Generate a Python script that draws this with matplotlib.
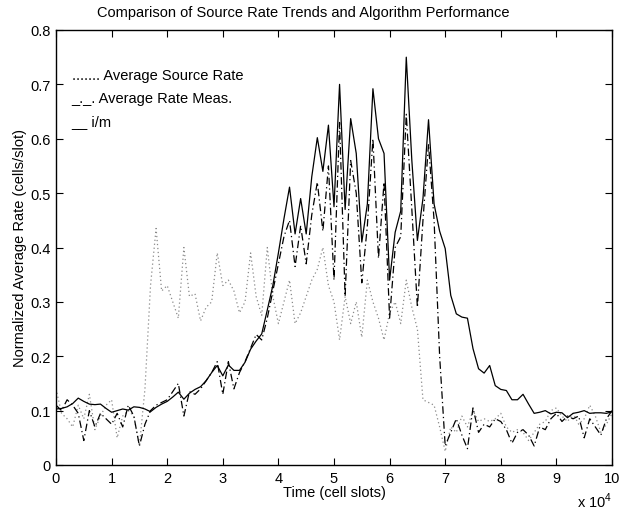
import matplotlib
matplotlib.use("Agg")
import matplotlib.pyplot as plt
import numpy as np

plt.rcParams['font.family'] = ['Liberation Sans', 'DejaVu Sans']

# sample times, in units of 10^4 cell slots (one sample every 1000 slots)
time_1e4 = np.arange(101) / 10.0

im_rate = [
    0.103, 0.104, 0.107, 0.113, 0.123, 0.117, 0.112, 0.111, 0.112, 0.104,
    0.097, 0.100, 0.103, 0.101, 0.107, 0.106, 0.103, 0.098, 0.106, 0.112,
    0.117, 0.125, 0.134, 0.121, 0.132, 0.139, 0.144, 0.155, 0.170, 0.183,
    0.164, 0.184, 0.174, 0.174, 0.189, 0.213, 0.228, 0.241, 0.285, 0.330,
    0.390, 0.453, 0.511, 0.425, 0.490, 0.425, 0.530, 0.602, 0.540, 0.625,
    0.475, 0.700, 0.470, 0.637, 0.573, 0.410, 0.480, 0.692, 0.600, 0.573,
    0.340, 0.428, 0.467, 0.750, 0.560, 0.413, 0.490, 0.635, 0.480, 0.430,
    0.398, 0.312, 0.278, 0.272, 0.270, 0.214, 0.177, 0.169, 0.183, 0.146,
    0.139, 0.137, 0.120, 0.120, 0.130, 0.112, 0.095, 0.097, 0.100, 0.094,
    0.097, 0.096, 0.087, 0.095, 0.097, 0.100, 0.095, 0.096, 0.096, 0.095,
    0.098,
]

meas_rate = [
    0.110, 0.100, 0.120, 0.110, 0.095, 0.045, 0.100, 0.070, 0.095, 0.085,
    0.075, 0.095, 0.070, 0.110, 0.090, 0.035, 0.075, 0.100, 0.110, 0.115,
    0.120, 0.135, 0.150, 0.090, 0.135, 0.130, 0.140, 0.155, 0.170, 0.190,
    0.130, 0.190, 0.140, 0.170, 0.190, 0.215, 0.240, 0.230, 0.270, 0.320,
    0.370, 0.420, 0.450, 0.365, 0.440, 0.370, 0.460, 0.520, 0.430, 0.550,
    0.340, 0.630, 0.310, 0.560, 0.500, 0.335, 0.440, 0.600, 0.380, 0.520,
    0.270, 0.400, 0.420, 0.645, 0.470, 0.290, 0.450, 0.590, 0.450, 0.200,
    0.035, 0.060, 0.085, 0.055, 0.030, 0.105, 0.060, 0.075, 0.070, 0.085,
    0.080, 0.065, 0.040, 0.060, 0.065, 0.055, 0.035, 0.070, 0.065, 0.085,
    0.095, 0.080, 0.090, 0.085, 0.090, 0.050, 0.085, 0.070, 0.055, 0.085,
    0.100,
]

source_rate = [
    0.140, 0.095, 0.085, 0.070, 0.110, 0.085, 0.130, 0.065, 0.090, 0.110,
    0.120, 0.050, 0.090, 0.100, 0.090, 0.035, 0.140, 0.330, 0.435, 0.320,
    0.330, 0.300, 0.270, 0.400, 0.310, 0.315, 0.265, 0.290, 0.300, 0.390,
    0.330, 0.340, 0.320, 0.280, 0.300, 0.390, 0.310, 0.275, 0.400, 0.310,
    0.260, 0.300, 0.340, 0.260, 0.280, 0.310, 0.340, 0.360, 0.400, 0.330,
    0.300, 0.230, 0.310, 0.260, 0.300, 0.235, 0.340, 0.300, 0.270, 0.230,
    0.280, 0.300, 0.260, 0.340, 0.290, 0.250, 0.120, 0.115, 0.110, 0.070,
    0.025, 0.070, 0.060, 0.090, 0.070, 0.100, 0.080, 0.085, 0.080, 0.085,
    0.095, 0.070, 0.060, 0.065, 0.060, 0.045, 0.060, 0.075, 0.080, 0.100,
    0.105, 0.090, 0.080, 0.095, 0.075, 0.085, 0.110, 0.090, 0.060, 0.075,
    0.095,
]

legend_lines = ["....... Average Source Rate", "_._. Average Rate Meas.", "__ i/m"]
x_ticks = list(range(0, 11))
y_ticks = [0, 0.1, 0.2, 0.3, 0.4, 0.5, 0.6, 0.7, 0.8]

fig = plt.figure(figsize=(6.28, 5.10), dpi=100)
ax = fig.add_axes([56/628, 1-466/510, (612-56)/628, (466-31)/510])

ax.plot(time_1e4, source_rate, color='#8a8a8a', linewidth=0.9,
        dashes=(1, 2.2))
ax.plot(time_1e4, meas_rate, color='black', linewidth=0.9,
        dashes=(6, 2.5, 1, 2.5))
ax.plot(time_1e4, im_rate, linestyle='-', color='black', linewidth=0.9)

ax.set_xlim(0, 10)
ax.set_ylim(0, 0.8)
ax.set_xticks(x_ticks)
ax.set_xticklabels([str(t) for t in x_ticks])
ax.set_yticks(y_ticks)
ax.set_yticklabels(['0', '0.1', '0.2', '0.3', '0.4', '0.5', '0.6', '0.7', '0.8'])
ax.tick_params(direction='in', top=True, right=True, length=5, width=0.8,
               labelsize=10.5, pad=4)
for s in ax.spines.values():
    s.set_linewidth(1.0)

fig.text(303/628, 1-13/510,
         "Comparison of Source Rate Trends and Algorithm Performance",
         fontsize=10.5, ha='center', va='center')
ax.set_xlabel("Time (cell slots)", fontsize=10.5, labelpad=0)
ax.set_ylabel("Normalized Average Rate (cells/slot)", fontsize=10.5, labelpad=2)

for i, t in enumerate(legend_lines):
    ax.text(0.028, 0.8966 - i * 0.0525, t, transform=ax.transAxes,
            fontsize=10.5, va='center', ha='left')

fig.text(577/628, 1-501/510, r"x 10$^{\mathregular{4}}$", fontsize=10.5,
         ha='left', va='center')

fig.savefig("out.png", dpi=100)
